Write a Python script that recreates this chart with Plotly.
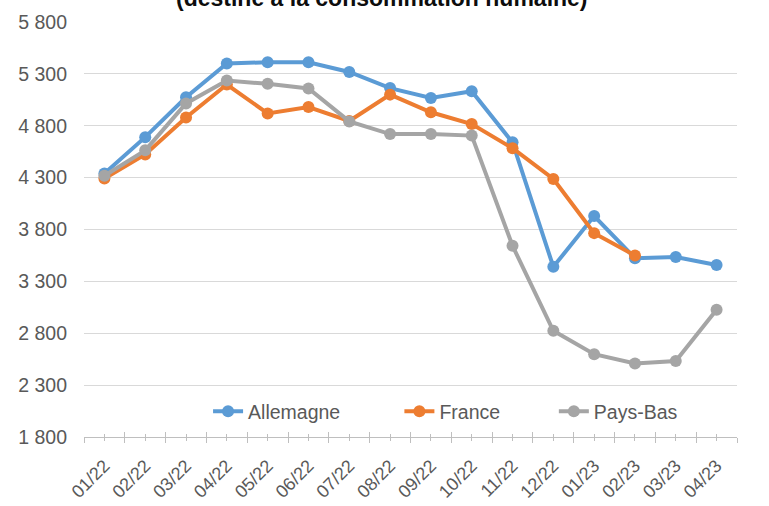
import plotly.graph_objects as go

months = ["01/22", "02/22", "03/22", "04/22", "05/22", "06/22", "07/22", "08/22",
          "09/22", "10/22", "11/22", "12/22", "01/23", "02/23", "03/23", "04/23"]

allemagne = [4340, 4690, 5075, 5400, 5412, 5412, 5318, 5163, 5068, 5133, 4640, 3440, 3930, 3524, 3535, 3458]
france = [4292, 4524, 4880, 5197, 4919, 4980, 4846, 5100, 4930, 4817, 4583, 4287, 3765, 3550, None, None]
pays_bas = [4318, 4563, 5015, 5236, 5204, 5159, 4842, 4720, 4721, 4705, 3643, 2823, 2598, 2508, 2533, 3026]

y_ticks = [1800, 2300, 2800, 3300, 3800, 4300, 4800, 5300, 5800]
title_text = "(destiné à la consommation humaine)"

FONT = "Liberation Sans"
GREY_TXT = "#595959"
AXIS_GREY = "#BFBFBF"

series = [("Allemagne", allemagne, "#5B9BD5", "\u00a0" * 10),
          ("France", france, "#ED7D31", "\u00a0" * 9),
          ("Pays-Bas", pays_bas, "#A5A5A5", "")]

fig = go.Figure()
for name, vals, col, pad in series:
    fig.add_trace(go.Scatter(
        x=months, y=vals, name=name + pad, mode="lines+markers",
        line=dict(color=col, width=4),
        marker=dict(color=col, size=12, symbol="circle"),
        connectgaps=False,
    ))

# empty traces that carry the overlay axes used for the crossing tick marks
for ax in ["x2", "x3", "x4"]:
    fig.add_trace(go.Scatter(x=months, y=[None] * len(months), xaxis=ax,
                             showlegend=False, hoverinfo="skip"))

cat_common = dict(type="category", categoryorder="array", categoryarray=months,
                  range=[-0.5, len(months) - 0.5], zeroline=False, showgrid=False,
                  automargin=False)

fig.update_layout(
    width=769, height=506,
    margin=dict(l=84, r=32, t=22, b=69, autoexpand=False),
    paper_bgcolor="white", plot_bgcolor="white",
    separators=", ",
    font=dict(family=FONT, color=GREY_TXT, size=19),
    showlegend=True,
    legend=dict(orientation="h", x=0.19, xanchor="left", y=0.061, yanchor="middle",
                bgcolor="rgba(0,0,0,0)", font=dict(size=19.5, color=GREY_TXT, family=FONT)),
    xaxis=dict(
        **cat_common,
        tickson="labels", ticks="outside", ticklen=3, tickcolor=AXIS_GREY, tickwidth=1.3,
        showline=True, linecolor=AXIS_GREY, linewidth=1.3,
        tickangle=-45, tickfont=dict(size=18, color=GREY_TXT), ticklabelstandoff=7,
    ),
    xaxis2=dict(
        **cat_common, overlaying="x", side="bottom", anchor="y",
        tickson="boundaries", ticks="outside", ticklen=5, tickcolor=AXIS_GREY, tickwidth=1.3,
        showticklabels=False, showline=False,
    ),
    xaxis3=dict(
        **cat_common, overlaying="x", side="bottom", anchor="y",
        tickson="boundaries", ticks="inside", ticklen=5, tickcolor=AXIS_GREY, tickwidth=1.3,
        showticklabels=False, showline=False,
    ),
    xaxis4=dict(
        **cat_common, overlaying="x", side="bottom", anchor="y",
        tickson="labels", ticks="inside", ticklen=3, tickcolor=AXIS_GREY, tickwidth=1.3,
        showticklabels=False, showline=False,
    ),
    yaxis=dict(
        range=[1800, 5800], tickvals=y_ticks, tickformat=",d", automargin=False,
        showgrid=True, gridcolor="#D9D9D9", gridwidth=1.3,
        showline=False, zeroline=False, ticks="", ticklabelstandoff=16,
        tickfont=dict(size=19.5, color=GREY_TXT),
    ),
    annotations=[dict(
        text="<b>" + title_text + "</b>", xref="paper", yref="paper",
        x=0.456, y=1, xanchor="center", yanchor="middle", yshift=24,
        showarrow=False, font=dict(size=23, color="#0d0d0d", family=FONT),
    )],
)

fig.write_html("out.html", config={"displayModeBar": False},
               post_script="document.body.style.margin='0';document.body.style.padding='0';")
